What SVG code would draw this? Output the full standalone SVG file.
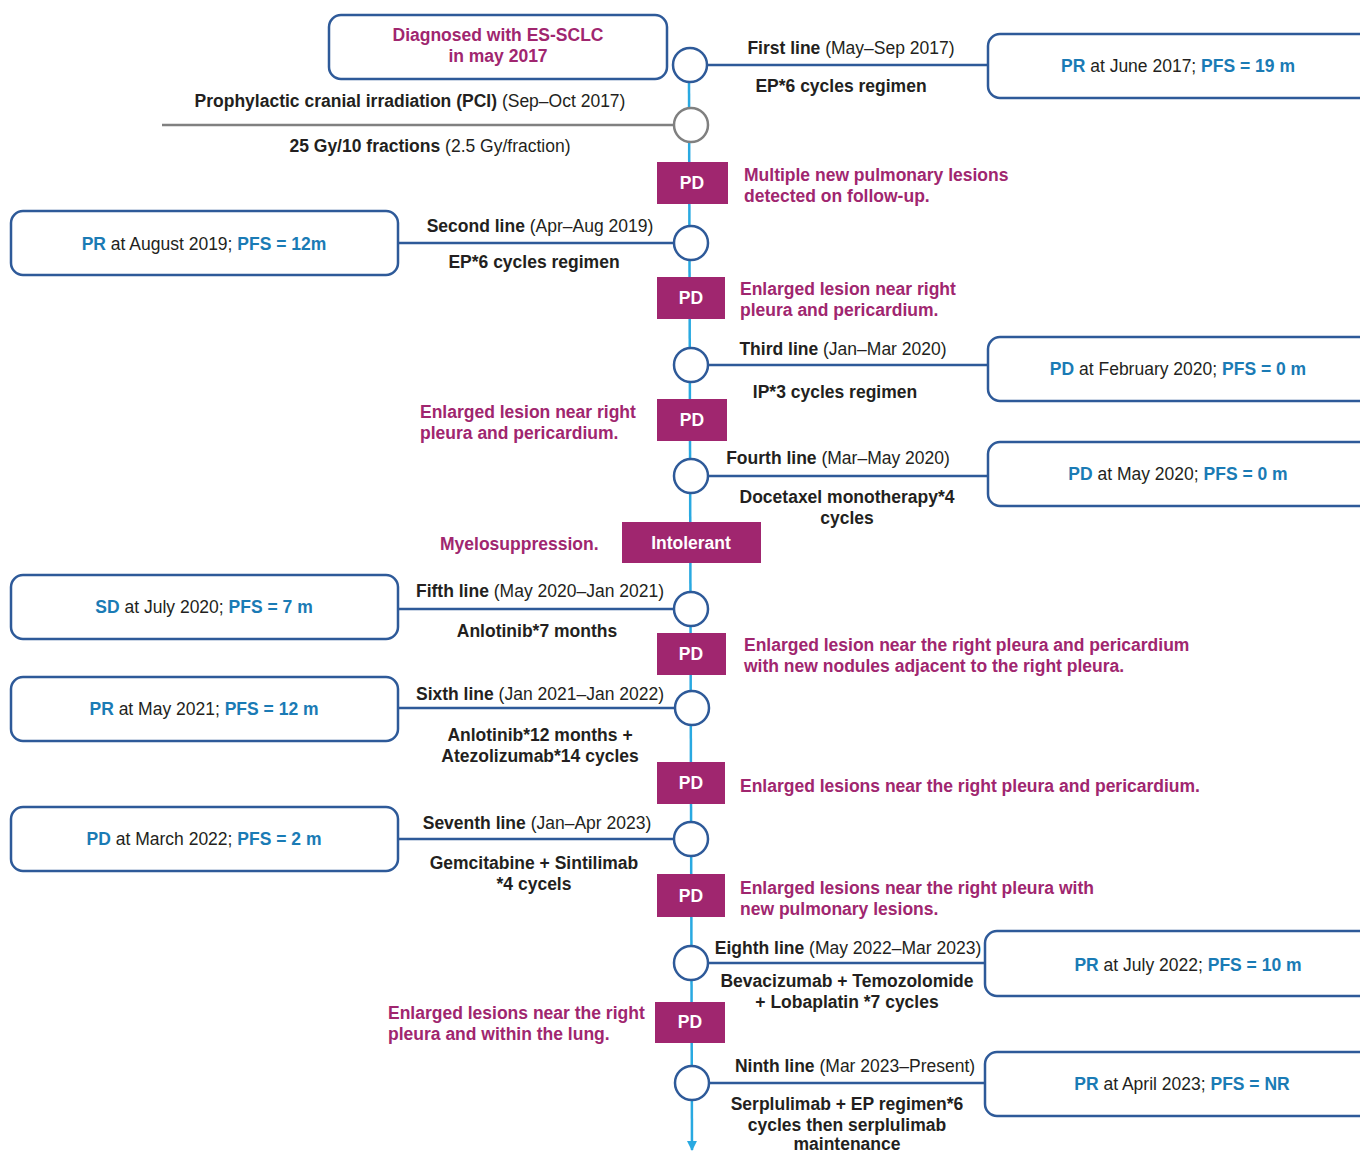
<svg xmlns="http://www.w3.org/2000/svg" width="1360" height="1152" viewBox="0 0 1360 1152">
<style>
text{font-family:"Liberation Sans",Arial,sans-serif;font-size:17.5px;fill:#231f20}
.b{font-weight:bold}
.m{fill:#a0266f;font-weight:bold}
.w{fill:#ffffff;font-weight:bold}
.c{fill:#1a7bb5;font-weight:bold}
.mid{text-anchor:middle}
.box{fill:#ffffff;stroke:#2e5a99;stroke-width:2.5}
.node{fill:#ffffff;stroke:#2e5a99;stroke-width:2.5}
.pd{fill:#a0266f}
.link{stroke:#2e5a99;stroke-width:2.5;fill:none}
.spine{stroke:#29a9e1;stroke-width:2.5;fill:none}
</style>
<defs>
<marker id="arr" viewBox="0 0 10 10" refX="9" refY="5" markerWidth="4" markerHeight="4" orient="auto">
<path d="M0,0 L10,5 L0,10 z" fill="#29a9e1"/>
</marker>
</defs>
<g id="connectors">
<path class="spine" d="M689,82 L692,1150" marker-end="url(#arr)"/>
<line class="link" x1="707" y1="65" x2="988" y2="65"/>
<line x1="162" y1="125" x2="674" y2="125" stroke="#808080" stroke-width="2.5"/>
<line class="link" x1="398" y1="243" x2="674" y2="243"/>
<line class="link" x1="708" y1="365" x2="988" y2="365"/>
<line class="link" x1="708" y1="476" x2="988" y2="476"/>
<line class="link" x1="398" y1="609" x2="674" y2="609"/>
<line class="link" x1="398" y1="708" x2="675" y2="708"/>
<line class="link" x1="398" y1="839" x2="674" y2="839"/>
<line class="link" x1="708" y1="963" x2="985" y2="963"/>
<line class="link" x1="709" y1="1083" x2="985" y2="1083"/>
</g>
<g id="diagnosis">
<rect class="box" x="329" y="15" width="338" height="64" rx="12"/>
<text class="m mid" x="498" y="41">Diagnosed with ES-SCLC</text>
<text class="m mid" x="498" y="62">in may 2017</text>
</g>
<g id="line1">
<circle class="node" cx="690" cy="65" r="17"/>
<text class="mid" x="851" y="54"><tspan class="b">First line</tspan> (May–Sep 2017)</text>
<text class="b mid" x="841" y="92">EP*6 cycles regimen</text>
</g>
<g id="result1">
<rect class="box" x="988" y="34" width="390" height="64" rx="12"/>
<text class="mid" x="1178" y="72"><tspan class="c">PR</tspan> at June 2017; <tspan class="c">PFS = 19 m</tspan></text>
</g>
<g id="pci">
<circle cx="691" cy="125" r="17" fill="#ffffff" stroke="#808080" stroke-width="2.5"/>
<text class="mid" x="410" y="107"><tspan class="b">Prophylactic cranial irradiation (PCI)</tspan> (Sep–Oct 2017)</text>
<text class="mid" x="430" y="152"><tspan class="b">25 Gy/10 fractions</tspan> (2.5 Gy/fraction)</text>
</g>
<g id="pd1">
<rect class="pd" x="657" y="162" width="71" height="42"/>
<text class="w mid" x="692" y="189">PD</text>
<text class="m" x="744" y="181">Multiple new pulmonary lesions</text>
<text class="m" x="744" y="202">detected on follow-up.</text>
</g>
<g id="line2">
<circle class="node" cx="691" cy="243" r="17"/>
<text class="mid" x="540" y="232"><tspan class="b">Second line</tspan> (Apr–Aug 2019)</text>
<text class="b mid" x="534" y="268">EP*6 cycles regimen</text>
</g>
<g id="result2">
<rect class="box" x="11" y="211" width="387" height="64" rx="12"/>
<text class="mid" x="204" y="250"><tspan class="c">PR</tspan> at August 2019; <tspan class="c">PFS = 12m</tspan></text>
</g>
<g id="pd2">
<rect class="pd" x="657" y="277" width="68" height="42"/>
<text class="w mid" x="691" y="304">PD</text>
<text class="m" x="740" y="295">Enlarged lesion near right</text>
<text class="m" x="740" y="316">pleura and pericardium.</text>
</g>
<g id="line3">
<circle class="node" cx="691" cy="365" r="17"/>
<text class="mid" x="843" y="355"><tspan class="b">Third line</tspan> (Jan–Mar 2020)</text>
<text class="b mid" x="835" y="398">IP*3 cycles regimen</text>
</g>
<g id="result3">
<rect class="box" x="988" y="337" width="390" height="64" rx="12"/>
<text class="mid" x="1178" y="375"><tspan class="c">PD</tspan> at February 2020; <tspan class="c">PFS = 0 m</tspan></text>
</g>
<g id="pd3">
<rect class="pd" x="657" y="399" width="70" height="42"/>
<text class="w mid" x="692" y="426">PD</text>
<text class="m" x="420" y="418">Enlarged lesion near right</text>
<text class="m" x="420" y="439">pleura and pericardium.</text>
</g>
<g id="line4">
<circle class="node" cx="691" cy="476" r="17"/>
<text class="mid" x="838" y="464"><tspan class="b">Fourth line</tspan> (Mar–May 2020)</text>
<text class="b mid" x="847" y="503">Docetaxel monotherapy*4</text>
<text class="b mid" x="847" y="524">cycles</text>
</g>
<g id="result4">
<rect class="box" x="988" y="442" width="390" height="64" rx="12"/>
<text class="mid" x="1178" y="480"><tspan class="c">PD</tspan> at May 2020; <tspan class="c">PFS = 0 m</tspan></text>
</g>
<g id="intolerant">
<rect class="pd" x="622" y="522" width="139" height="41"/>
<text class="w mid" x="691" y="549">Intolerant</text>
<text class="m" x="440" y="550">Myelosuppression.</text>
</g>
<g id="line5">
<circle class="node" cx="691" cy="609" r="17"/>
<text class="mid" x="540" y="597"><tspan class="b">Fifth line</tspan> (May 2020–Jan 2021)</text>
<text class="b mid" x="537" y="637">Anlotinib*7 months</text>
</g>
<g id="result5">
<rect class="box" x="11" y="575" width="387" height="64" rx="12"/>
<text class="mid" x="204" y="613"><tspan class="c">SD</tspan> at July 2020; <tspan class="c">PFS = 7 m</tspan></text>
</g>
<g id="pd4">
<rect class="pd" x="657" y="633" width="69" height="42"/>
<text class="w mid" x="691" y="660">PD</text>
<text class="m" x="744" y="651">Enlarged lesion near the right pleura and pericardium</text>
<text class="m" x="744" y="672">with new nodules adjacent to the right pleura.</text>
</g>
<g id="line6">
<circle class="node" cx="692" cy="708" r="17"/>
<text class="mid" x="540" y="700"><tspan class="b">Sixth line</tspan> (Jan 2021–Jan 2022)</text>
<text class="b mid" x="540" y="741">Anlotinib*12 months +</text>
<text class="b mid" x="540" y="762">Atezolizumab*14 cycles</text>
</g>
<g id="result6">
<rect class="box" x="11" y="677" width="387" height="64" rx="12"/>
<text class="mid" x="204" y="715"><tspan class="c">PR</tspan> at May 2021; <tspan class="c">PFS = 12 m</tspan></text>
</g>
<g id="pd5">
<rect class="pd" x="657" y="762" width="68" height="42"/>
<text class="w mid" x="691" y="789">PD</text>
<text class="m" x="740" y="792">Enlarged lesions near the right pleura and pericardium.</text>
</g>
<g id="line7">
<circle class="node" cx="691" cy="839" r="17"/>
<text class="mid" x="537" y="829"><tspan class="b">Seventh line</tspan> (Jan–Apr 2023)</text>
<text class="b mid" x="534" y="869">Gemcitabine + Sintilimab</text>
<text class="b mid" x="534" y="890">*4 cycels</text>
</g>
<g id="result7">
<rect class="box" x="11" y="807" width="387" height="64" rx="12"/>
<text class="mid" x="204" y="845"><tspan class="c">PD</tspan> at March 2022; <tspan class="c">PFS = 2 m</tspan></text>
</g>
<g id="pd6">
<rect class="pd" x="657" y="874" width="68" height="43"/>
<text class="w mid" x="691" y="902">PD</text>
<text class="m" x="740" y="894">Enlarged lesions near the right pleura with</text>
<text class="m" x="740" y="915">new pulmonary lesions.</text>
</g>
<g id="line8">
<circle class="node" cx="691" cy="963" r="17"/>
<text class="mid" x="848" y="954"><tspan class="b">Eighth line</tspan> (May 2022–Mar 2023)</text>
<text class="b mid" x="847" y="987">Bevacizumab + Temozolomide</text>
<text class="b mid" x="847" y="1008">+ Lobaplatin *7 cycles</text>
</g>
<g id="result8">
<rect class="box" x="985" y="931" width="393" height="65" rx="12"/>
<text class="mid" x="1188" y="971"><tspan class="c">PR</tspan> at July 2022; <tspan class="c">PFS = 10 m</tspan></text>
</g>
<g id="pd7">
<rect class="pd" x="655" y="1002" width="70" height="41"/>
<text class="w mid" x="690" y="1028">PD</text>
<text class="m" x="388" y="1019">Enlarged lesions near the right</text>
<text class="m" x="388" y="1040">pleura and within the lung.</text>
</g>
<g id="line9">
<circle class="node" cx="692" cy="1083" r="17"/>
<text class="mid" x="855" y="1072"><tspan class="b">Ninth line</tspan> (Mar 2023–Present)</text>
<text class="b mid" x="847" y="1110">Serplulimab + EP regimen*6</text>
<text class="b mid" x="847" y="1131">cycles then serplulimab</text>
<text class="b mid" x="847" y="1150">maintenance</text>
</g>
<g id="result9">
<rect class="box" x="985" y="1052" width="393" height="64" rx="12"/>
<text class="mid" x="1182" y="1090"><tspan class="c">PR</tspan> at April 2023; <tspan class="c">PFS = NR</tspan></text>
</g>
</svg>
